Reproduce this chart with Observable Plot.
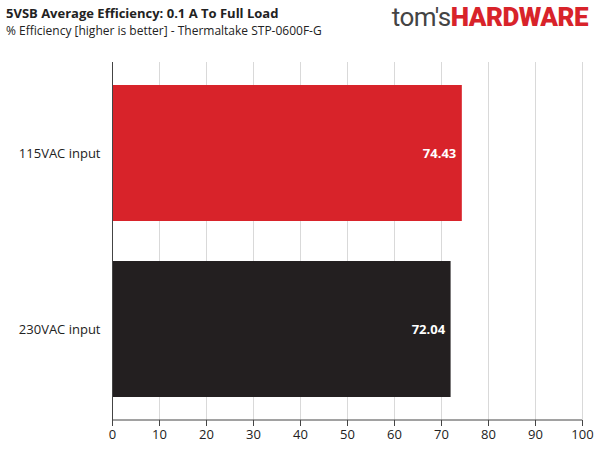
<!DOCTYPE html>
<html><head>
<script src="https://cdn.jsdelivr.net/npm/d3@7"></script>
<script src="https://cdn.jsdelivr.net/npm/@observablehq/plot@0.6"></script>
<style>
body{margin:0;background:#fff;font-family:"Open Sans",Arial,sans-serif;}
#hdr{position:relative;height:62px;width:600px;}
#t1{position:absolute;left:6px;top:4px;font-size:13px;font-weight:bold;color:#222;}
#t2{position:absolute;left:6px;top:22px;font-size:12px;color:#222;}
#logo{position:absolute;right:12px;top:2px;font-size:26px;font-family:"Roboto",sans-serif;color:#444;letter-spacing:-0.5px;}
#logo b{color:#d8232a;font-weight:900;}
</style></head><body>
<div id="hdr">
<div id="t1">5VSB Average Efficiency: 0.1 A To Full Load</div>
<div id="t2">% Efficiency [higher is better] - Thermaltake STP-0600F-G</div>
<div id="logo">tom's<b>HARDWARE</b></div>
</div>
<div id="chart"></div>
<script>
const categories = ["115VAC input", "230VAC input"];
const values = [74.43, 72.04];
const colors = ["#d8232a", "#231f20"];
const ticks = [0,10,20,30,40,50,60,70,80,90,100];
const data = categories.map((c,i)=>({c, v:values[i], col:colors[i]}));
const p = Plot.plot({
  width:600, height:388, marginTop:0, marginBottom:30, marginLeft:112, marginRight:18,
  style:{fontFamily:"Open Sans, Arial, sans-serif", fontSize:"13px", color:"#222"},
  x:{domain:[0,100], ticks, label:null, tickSize:6},
  y:{domain:categories, paddingInner:0.23, paddingOuter:0.13, label:null, tickSize:0, tickPadding:12},
  marks:[
    Plot.gridX(ticks,{stroke:"#d9d9d9", strokeOpacity:1}),
    Plot.barX(data,{x:"v", y:"c", fill:"col"}),
    Plot.text(data,{x:"v", y:"c", text:d=>d.v.toFixed(2), textAnchor:"end", dx:-6, fill:"white", fontWeight:"bold", fontSize:13}),
    Plot.ruleY([0],{y:()=>null}),
    Plot.axisX({ticks, tickSize:6, stroke:"#444"}),
    Plot.ruleX([0],{stroke:"#444"})
  ]
});
document.getElementById("chart").append(p);
// axis baseline
const svg = d3.select(p);
svg.append("line").attr("x1",112).attr("x2",582).attr("y1",358).attr("y2",358).attr("stroke","#444");
</script>
</body></html>
